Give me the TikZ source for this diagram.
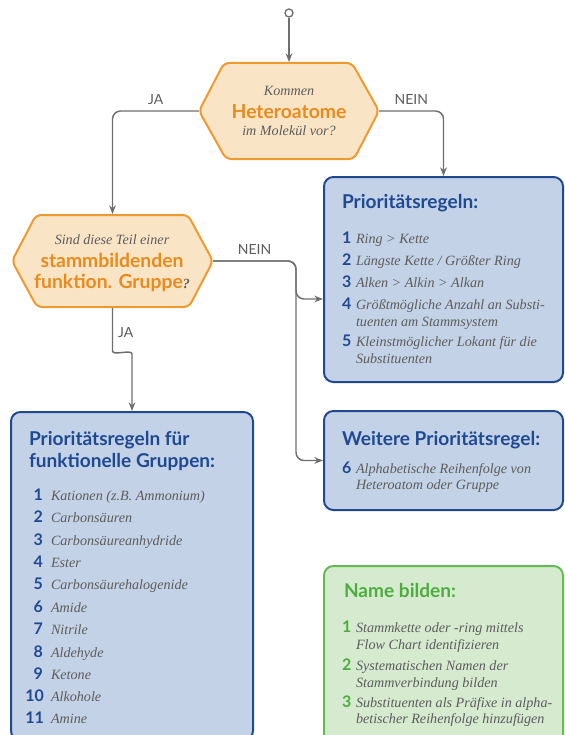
\documentclass[tikz,border=0pt]{standalone}
\usepackage{fontspec}
\newfontfamily\latofont{Lato}
\newfontfamily\serfont{Liberation Serif}
\usetikzlibrary{arrows.meta, calc}

\definecolor{hexline}{HTML}{EE9A2E}
\definecolor{hexfill}{HTML}{FAE4C6}
\definecolor{hextext}{HTML}{E98B1C}
\definecolor{boxline}{HTML}{21498F}
\definecolor{boxfill}{HTML}{C3D2E7}
\definecolor{boxtext}{HTML}{1F4A92}
\definecolor{grnline}{HTML}{62BC52}
\definecolor{grnfill}{HTML}{D6EAD0}
\definecolor{grntext}{HTML}{4DAE3E}
\definecolor{txtgray}{HTML}{5C5C5C}
\definecolor{arrgray}{HTML}{6E6E6E}

\begin{document}
\begin{tikzpicture}[x=0.75pt, y=-0.75pt, line width=1.5pt,
    conn/.style={draw=arrgray, line width=1.1pt, rounded corners=6pt, -{Stealth[length=6.5pt, width=5pt]}},
    hexa/.style={draw=hexline, fill=hexfill, rounded corners=4pt},
    bluebox/.style={draw=boxline, fill=boxfill, rounded corners=7pt},
    grnbox/.style={draw=grnline, fill=grnfill, rounded corners=7pt},
    itx/.style={font=\serfont\itshape\fontsize{10.6}{12}\selectfont, text=txtgray, inner sep=0pt, anchor=base},
    htitle/.style={font=\latofont\bfseries\fontsize{14.5}{16}\selectfont, text=hextext, inner sep=0pt, anchor=base},
    btitle/.style={font=\latofont\bfseries\fontsize{14.3}{16}\selectfont, text=boxtext, inner sep=0pt, anchor=base west},
    gtitle/.style={btitle, text=grntext},
    bnum/.style={font=\latofont\bfseries\fontsize{12}{13}\selectfont, text=boxtext, inner sep=0pt, anchor=base west},
    gnum/.style={bnum, text=grntext},
    item/.style={itx, anchor=base west},
    lbl/.style={font=\latofont\fontsize{10.5}{12}\selectfont, text=txtgray, inner sep=0pt}]
    \useasboundingbox (0,0) rectangle (564,735);

    % Fragen
    \node[minimum width=133.5pt, minimum height=72pt] (h1) at (289,111) {};
    \draw[hexa] (h1.west) -- ++(25,-48) -- ++(128,0) -- (h1.east) -- ++(-25,48) -- ++(-128,0) -- cycle;
    \node[itx] (h1a) at (289,95) {Kommen};
    \node[htitle] (h1b) at (289,118) {Heteroatome};
    \node[itx] (h1c) at (289,135) {im Molekül vor?};

    \node[minimum width=149.25pt, minimum height=69pt] (h2) at (112.5,261) {};
    \draw[hexa] (h2.west) -- ++(24,-46) -- ++(152,0) -- (h2.east) -- ++(-24,46) -- ++(-152,0) -- cycle;
    \node[itx] (h2a) at (112,244) {Sind diese Teil einer};
    \node[htitle] (h2b) at (112,267) {stammbildenden};
    \node[htitle] (h2c) at (112,288) {funktion. Gruppe{\serfont\itshape\fontsize{10.5}{12}\selectfont\textcolor{txtgray}{?}}};

    % Boxen
    \node[bluebox, minimum width=179.25pt, minimum height=153.75pt] (prio) at (443.5,279.5) {};
    \node[bluebox, minimum width=179.25pt, minimum height=74.25pt] (weitere) at (443.5,460.5) {};
    \node[bluebox, minimum width=181.5pt, minimum height=246pt] (fg) at (132,576) {};
    \node[grnbox, minimum width=179.25pt, minimum height=138pt] (name) at (443.5,658) {};

    % Pfeile
    \node[draw=arrgray, fill=white, circle, inner sep=0pt, minimum size=6pt, line width=1pt] (start) at (289,13) {};
    \draw[conn] (start) -- (h1.north);
    \draw[conn] (h1.west) -| (h2.north) node[lbl, pos=0.25, above=4.5pt] (ja1) {JA};
    \draw[conn] (h1.east) -| (prio.north) node[lbl, pos=0.25, above=4.5pt] (nein1) {NEIN};
    \draw[conn] (h2.east) -- (296,261) -- (296,299) -- ($(prio.west)+(0,19.5)$);
    \draw[conn] (h2.east) -- node[lbl, above=4.5pt] (nein2) {NEIN} (296,261) -- (296,460.5) -- (weitere.west);
    \draw[conn] (h2.south) -- (112.5,343) .. controls (112.5,356) and (132,349) .. (132,362) -- (fg.north);
    \node[lbl, anchor=west] (ja2) at (117,333) {JA};

    % Prioritaetsregeln
    \node[btitle] (pt) at (341,208) {Prioritätsregeln:};
    \node[bnum] (p1n) at (341,243) {1};
    \node[item] (p1) at (355,243) {Ring > Kette};
    \node[bnum] (p2n) at (341,265) {2};
    \node[item] (p2) at (355,265) {Längste Kette / Größter Ring};
    \node[bnum] (p3n) at (341,287) {3};
    \node[item] (p3) at (355,287) {Alken > Alkin > Alkan};
    \node[bnum] (p4n) at (341,309) {4};
    \node[item] (p4) at (355,309) {Größtmögliche Anzahl an Substi-};
    \node[item] (p4b) at (355,326) {tuenten am Stammsystem};
    \node[bnum] (p5n) at (341,346) {5};
    \node[item] (p5) at (355,346) {Kleinstmöglicher Lokant für die};
    \node[item] (p5b) at (355,363) {Substituenten};

    \node[btitle] (wt) at (341,445) {Weitere Prioritätsregel:};
    \node[bnum] (w6n) at (341,473) {6};
    \node[item] (w6) at (355,473) {Alphabetische Reihenfolge von};
    \node[item] (w6b) at (355,489) {Heteroatom oder Gruppe};

    % funktionelle Gruppen
    \node[btitle] (ft) at (28,445) {Prioritätsregeln für};
    \node[btitle] (ftb) at (28,467) {funktionelle Gruppen:};
    \node[bnum, anchor=base east] (f1n) at (44,500) {1};
    \node[item] (f1) at (50,500) {Kationen (z.B. Ammonium)};
    \node[bnum, anchor=base east] (f2n) at (44,522) {2};
    \node[item] (f2) at (50,522) {Carbonsäuren};
    \node[bnum, anchor=base east] (f3n) at (44,545) {3};
    \node[item] (f3) at (50,545) {Carbonsäureanhydride};
    \node[bnum, anchor=base east] (f4n) at (44,567) {4};
    \node[item] (f4) at (50,567) {Ester};
    \node[bnum, anchor=base east] (f5n) at (44,589) {5};
    \node[item] (f5) at (50,589) {Carbonsäurehalogenide};
    \node[bnum, anchor=base east] (f6n) at (44,612) {6};
    \node[item] (f6) at (50,612) {Amide};
    \node[bnum, anchor=base east] (f7n) at (44,634) {7};
    \node[item] (f7) at (50,634) {Nitrile};
    \node[bnum, anchor=base east] (f8n) at (44,657) {8};
    \node[item] (f8) at (50,657) {Aldehyde};
    \node[bnum, anchor=base east] (f9n) at (44,679) {9};
    \node[item] (f9) at (50,679) {Ketone};
    \node[bnum, anchor=base east] (f10n) at (45,701) {10};
    \node[item] (f10) at (50,701) {Alkohole};
    \node[bnum, anchor=base east] (f11n) at (45,723) {11};
    \node[item] (f11) at (50,723) {Amine};

    % Name bilden
    \node[gtitle] (nt) at (343,597) {Name bilden:};
    \node[gnum] (n1n) at (341,632) {1};
    \node[item] (n1) at (355,632) {Stammkette oder -ring mittels};
    \node[item] (n1b) at (355,649) {Flow Chart identifizieren};
    \node[gnum] (n2n) at (341,670) {2};
    \node[item] (n2) at (355,670) {Systematischen Namen der};
    \node[item] (n2b) at (355,687) {Stammverbindung bilden};
    \node[gnum] (n3n) at (341,707) {3};
    \node[item] (n3) at (355,707) {Substituenten als Präfixe in alpha-};
    \node[item] (n3b) at (355,723) {betischer Reihenfolge hinzufügen};
\end{tikzpicture}
\end{document}
